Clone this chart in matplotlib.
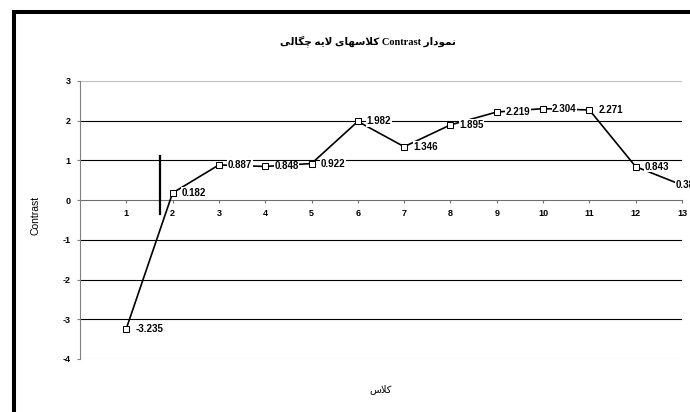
import matplotlib
matplotlib.use('Agg')
from matplotlib import pyplot as plt
from matplotlib.patches import Rectangle

plt.rcParams['axes.unicode_minus'] = False

# values
classes = list(range(1, 14))
contrast = [-3.235, 0.182, 0.887, 0.848, 0.922, 1.982, 1.346, 1.895, 2.219, 2.304, 2.271, 0.843, 0.38]
labels = ['-3.235', '0.182', '0.887', '0.848', '0.922', '1.982', '1.346', '1.895', '2.219', '2.304',
          '2.271', '0.843', '0.38']
yticks = [-4, -3, -2, -1, 0, 1, 2, 3]
# stray vertical stroke drawn over the chart
stray_x = [1.73, 1.73]
stray_y = [-0.35, 1.1]

title_fa_right = 'نمودار'
title_fa_left = 'کلاسهای لایه چگالی'
xlabel_fa = 'کلاس'

# tiny persian shaper (matplotlib does not do arabic shaping / rtl)
FORMS = {
    'ا': ('\uFE8D', '\uFE8E', None, None),
    'د': ('\uFEA9', '\uFEAA', None, None),
    'ر': ('\uFEAD', '\uFEAE', None, None),
    'و': ('\uFEED', '\uFEEE', None, None),
    'ن': ('\uFEE5', '\uFEE6', '\uFEE7', '\uFEE8'),
    'م': ('\uFEE1', '\uFEE2', '\uFEE3', '\uFEE4'),
    'ک': ('\uFB8E', '\uFB8F', '\uFB90', '\uFB91'),
    'ل': ('\uFEDD', '\uFEDE', '\uFEDF', '\uFEE0'),
    'س': ('\uFEB1', '\uFEB2', '\uFEB3', '\uFEB4'),
    'ه': ('\uFEE9', '\uFEEA', '\uFEEB', '\uFEEC'),
    'ی': ('\uFBFC', '\uFBFD', '\uFBFE', '\uFBFF'),
    'چ': ('\uFB7A', '\uFB7B', '\uFB7C', '\uFB7D'),
    'گ': ('\uFB92', '\uFB93', '\uFB94', '\uFB95'),
}
LAM_ALEF = ('\uFEFB', '\uFEFC')


def shape(text):
    out = []
    i = 0
    prev_joins = False
    while i < len(text):
        c = text[i]
        if c not in FORMS:
            out.append(c)
            prev_joins = False
            i += 1
            continue
        if c == 'ل' and i + 1 < len(text) and text[i + 1] == 'ا':
            out.append(LAM_ALEF[1 if prev_joins else 0])
            prev_joins = False
            i += 2
            continue
        iso, fin, ini, med = FORMS[c]
        nxt = text[i + 1] if i + 1 < len(text) else ''
        next_joins = ini is not None and nxt in FORMS
        if prev_joins and next_joins:
            f = med
        elif prev_joins:
            f = fin
        elif next_joins:
            f = ini
        else:
            f = iso
        out.append(f)
        prev_joins = ini is not None
        i += 1
    return ''.join(reversed(out))


fig = plt.figure(figsize=(6.9, 4.12), dpi=100)
ax = fig.add_axes([80 / 690, 1 - 359 / 412, 602 / 690, 278 / 412])

# outer chart frame (only left/top visible)
fig.patches.append(Rectangle((13.7 / 690, -0.2), 2.0, 1.2 - 12 / 412, transform=fig.transFigure,
                             fill=False, edgecolor='black', linewidth=2.9, clip_on=False))

ax.set_xlim(0, 13)
ax.set_ylim(-4, 3)

# gridlines
for y in yticks:
    if y == 0:
        continue
    col = '#bdbdbd' if y in (3, -4) else 'black'
    ax.axhline(y, color=col, linewidth=0.8, zorder=1)

ax.plot(classes, contrast, color='black', linewidth=1.2, marker='s', markersize=5,
        markerfacecolor='white', markeredgecolor='black', markeredgewidth=0.75, zorder=3)
ax.plot(stray_x, stray_y, color='black', linewidth=1.6, zorder=3)

for i, (x, y, lab) in enumerate(zip(classes, contrast, labels)):
    off = (6.5, 0) if i < len(classes) - 1 else (-4.5, 0)
    ax.annotate(lab, (x, y), xytext=off, textcoords='offset points', ha='left', va='center',
                fontsize=7, fontweight='bold', family='Liberation Sans', zorder=4,
                bbox=dict(boxstyle='square,pad=0.05', facecolor='white', edgecolor='none'),
                annotation_clip=False)

for s in ['top', 'right']:
    ax.spines[s].set_visible(False)
ax.spines['bottom'].set_position(('data', 0))
ax.spines['bottom'].set_color('#6e6e6e')
ax.spines['left'].set_color('#808080')
ax.spines['bottom'].set_zorder(2)

ax.set_xticks(classes)
ax.set_yticks(yticks)
ax.tick_params(axis='x', direction='out', length=2.5, width=0.8, color='#6e6e6e', pad=4, labelsize=6.5)
ax.tick_params(axis='y', direction='out', length=2.5, width=0.8, color='#808080', pad=4, labelsize=6.5)
for t in ax.get_xticklabels() + ax.get_yticklabels():
    t.set_fontweight('bold')
    t.set_family('Liberation Sans')

ax.set_ylabel('Contrast', fontsize=7.5, family='Liberation Sans')
ax.yaxis.set_label_coords(-0.066, 0.518)

ax.set_xlabel(shape(xlabel_fa), fontsize=7, family='DejaVu Sans')
ax.xaxis.set_label_coords(0.5, -0.09)

title = shape(title_fa_left) + ' Contrast ' + shape(title_fa_right)
fig.text(368 / 690, 1 - 41 / 412, title, ha='center', va='center', fontsize=7.5, fontweight='bold',
         family=['Liberation Serif', 'DejaVu Sans'])

fig.savefig('out.png', dpi=100)
